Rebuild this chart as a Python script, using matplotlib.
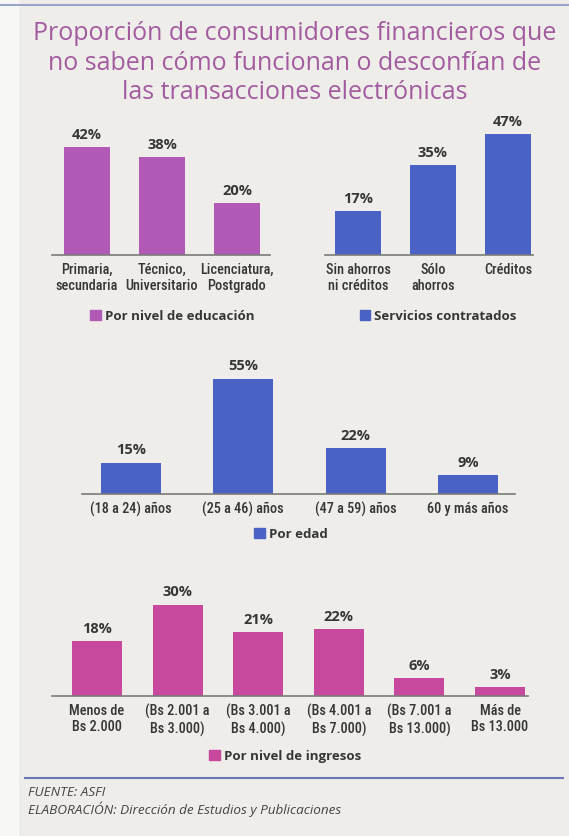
import matplotlib.pyplot as plt
from matplotlib.patches import Patch, Rectangle
from matplotlib.lines import Line2D

W, H = 569, 837

edu_labels = ["Primaria,\nsecundaria", "Técnico,\nUniversitario", "Licenciatura,\nPostgrado"]
edu_values = [42, 38, 20]

serv_labels = ["Sin ahorros\nni créditos", "Sólo\nahorros", "Créditos"]
serv_values = [17, 35, 47]

age_labels = ["(18 a 24) años", "(25 a 46) años", "(47 a 59) años", "60 y más años"]
age_values = [15, 55, 22, 9]

inc_labels = ["Menos de\nBs 2.000", "(Bs 2.001 a\nBs 3.000)", "(Bs 3.001 a\nBs 4.000)",
              "(Bs 4.001 a\nBs 7.000)", "(Bs 7.001 a\nBs 13.000)", "Más de\nBs 13.000"]
inc_values = [18, 30, 21, 22, 6, 3]

PURPLE = "#b15ab5"
BLUE = "#4a62c4"
PINK = "#c8489d"
TXT = "#363636"
BG = "#eeede9"

SANS = ["Open Sans", "DejaVu Sans"]
COND = ["Roboto Condensed", "Liberation Sans Narrow", "DejaVu Sans"]

fig = plt.figure(figsize=(W / 100, H / 100), dpi=100, facecolor=BG)
fig.patches.append(Rectangle((0, 0), 18 / W, 1, transform=fig.transFigure,
                             color="#f7f7f5", zorder=0))
fig.lines.append(Line2D([0, 1], [1 - 6 / H, 1 - 6 / H], transform=fig.transFigure,
                        color="#9aa6c8", lw=1.5))

title = ("Proporción de consumidores financieros que\n"
         "no saben cómo funcionan o desconfían de\n"
         "las transacciones electrónicas")
fig.text(295 / W, 1 - 63 / H, title, ha="center", va="center", fontsize=18,
         family=SANS, color="#a35ba0", linespacing=1.24)


def panel(values, labels, color, x0, x1, c0, step, base, ppu, width_px, legend, lx, ly):
    n = len(values)
    top = 62
    ax = fig.add_axes([x0 / W, 1 - base / H, (x1 - x0) / W, top * ppu / H])
    ax.set_facecolor("none")
    pos = list(range(n))
    bars = ax.bar(pos, values, width=width_px / step, color=color, zorder=2)
    ax.set_xlim((x0 - c0) / step, (x1 - c0) / step)
    ax.set_ylim(0, top)
    for b, v in zip(bars, values):
        ax.text(b.get_x() + b.get_width() / 2, v + 6 / ppu, f"{v}%",
                ha="center", va="bottom", fontsize=10.5, fontweight="bold",
                family=SANS, color=TXT)
    ax.set_xticks(pos)
    ax.set_xticklabels(labels, family=COND, fontsize=10.3, fontweight="medium",
                       color=TXT, linespacing=1.22)
    ax.tick_params(axis="x", length=0, pad=5)
    ax.set_yticks([])
    for s in ("left", "right", "top"):
        ax.spines[s].set_visible(False)
    ax.spines["bottom"].set_color("#7a7a7a")
    ax.spines["bottom"].set_linewidth(1.2)
    fig.legend(handles=[Patch(color=color, label=legend)], loc="center",
               bbox_to_anchor=(lx / W, 1 - ly / H), frameon=False,
               handlelength=0.8, handleheight=0.8, handletextpad=0.3,
               prop={"family": SANS, "weight": "bold", "size": 9.5},
               labelcolor=TXT)
    return ax


panel(edu_values, edu_labels, PURPLE, 52, 270, 87, 75, 256, 2.58, 46,
      "Por nivel de educación", 172, 317)
panel(serv_values, serv_labels, BLUE, 325, 533, 358, 75, 256, 2.58, 46,
      "Servicios contratados", 438, 317)
panel(age_values, age_labels, BLUE, 82, 515, 131, 112.3, 495, 2.1, 60,
      "Por edad", 291, 535)
panel(inc_values, inc_labels, PINK, 52, 528, 97, 80.6, 697, 3.05, 50,
      "Por nivel de ingresos", 285, 757)

fig.lines.append(Line2D([25 / W, 563 / W], [1 - 779 / H, 1 - 779 / H],
                        transform=fig.transFigure, color="#6a78b8", lw=1.5))
fig.text(28 / W, 1 - 793 / H, "FUENTE: ASFI", ha="left", va="center",
         fontsize=9.7, style="italic", family=SANS, color="#444444")
fig.text(28 / W, 1 - 809 / H, "ELABORACIÓN: Dirección de Estudios y Publicaciones",
         ha="left", va="center", fontsize=9.7, style="italic", family=SANS,
         color="#444444")

fig.savefig("out.png", dpi=100, facecolor=BG)
